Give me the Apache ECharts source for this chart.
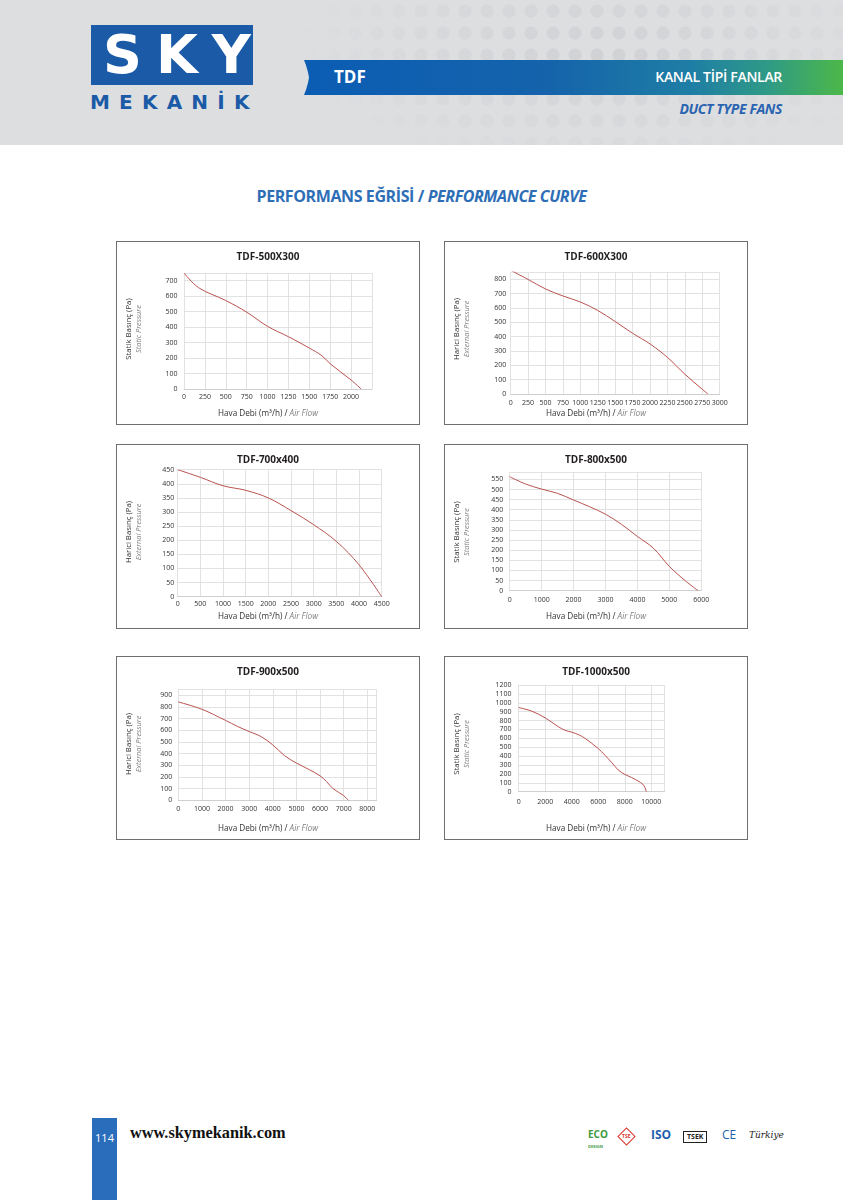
<!DOCTYPE html>
<html>
<head>
<meta charset="utf-8">
<script src="https://cdn.jsdelivr.net/npm/echarts/dist/echarts.min.js"></script>
<style>
  html,body{margin:0;padding:0;background:#fff;}
  body{width:843px;height:1200px;position:relative;overflow:hidden;font-family:"Open Sans",sans-serif;}
  .abs{position:absolute;}
  #header{left:0;top:0;width:843px;height:145px;background:#dddee0;overflow:hidden;}
  #dots{left:300px;top:0;width:543px;height:145px;
    background-image:radial-gradient(circle,#cfd0d3 0,#cfd0d3 6px,transparent 7px);
    background-size:22px 22px;
    -webkit-mask-image:radial-gradient(ellipse 300px 120px at 55% 35%,rgba(0,0,0,0.9),rgba(0,0,0,0) 100%);
    mask-image:radial-gradient(ellipse 300px 120px at 55% 35%,rgba(0,0,0,0.9),rgba(0,0,0,0) 100%);}
  #logo{left:91px;top:25px;width:162px;height:60px;background:#1a5aa7;color:#fff;
    font-family:"DejaVu Sans",sans-serif;font-weight:bold;font-size:54px;line-height:60px;
    letter-spacing:14px;text-align:center;text-indent:12px;}
  #mek{left:90px;top:90px;width:170px;height:24px;color:#1a5aa7;font-family:"DejaVu Sans",sans-serif;
    font-size:20px;line-height:24px;letter-spacing:9.2px;font-weight:bold;}
  #band{left:304px;top:60px;width:539px;height:35px;
    background:linear-gradient(90deg,#0b5db4 0%,#1463ab 45%,#1f7ea5 72%,#2f9a86 86%,#4cb848 100%);
    clip-path:polygon(0 0,100% 0,100% 100%,0 100%,2px 85%,4px 65%,5px 50%,4px 35%,2px 15%);}
  #tdf{left:334px;top:66px;color:#fff;font-weight:bold;font-size:17px;line-height:22px;}
  #kanal{left:600px;top:67px;width:182px;text-align:right;color:#fff;font-weight:600;font-size:14px;line-height:20px;letter-spacing:-0.3px;}
  #duct{left:600px;top:99px;width:182px;text-align:right;color:#2a64b0;font-weight:bold;font-style:italic;font-size:14px;line-height:20px;letter-spacing:-0.4px;}
  #ptitle{left:0;top:185px;width:843px;text-align:center;color:#2d6eb6;font-weight:bold;font-size:16px;line-height:22px;letter-spacing:-0.4px;}
  .box{border:1px solid #6d6e71;box-sizing:border-box;}
  .chart{position:absolute;left:-1px;top:-1px;}
  #pbar{left:92px;top:1118px;width:25px;height:82px;background:#2a6ebb;}
  #pnum{left:92px;top:1130px;width:25px;text-align:center;color:#fff;font-size:11px;line-height:16px;}
  #web{left:130px;top:1123px;color:#111;font-family:"Liberation Serif","DejaVu Serif",serif;font-weight:bold;font-size:16.3px;line-height:20px;}
  .lg{top:1127px;font-size:10px;line-height:16px;font-weight:bold;}
</style>
</head>
<body>
<div id="header" class="abs"><div id="dots" class="abs"></div></div>
<div id="logo" class="abs">SKY</div>
<div id="mek" class="abs">MEKANİK</div>
<div id="band" class="abs"></div>
<div id="tdf" class="abs">TDF</div>
<div id="kanal" class="abs">KANAL TİPİ FANLAR</div>
<div id="duct" class="abs">DUCT TYPE FANS</div>
<div id="ptitle" class="abs">PERFORMANS EĞRİSİ / <i>PERFORMANCE CURVE</i></div>

<div id="b1" class="abs box" style="left:116px;top:241px;width:304px;height:184px;"><div id="c1" class="chart" style="width:304px;height:184px;"></div></div>
<div id="b2" class="abs box" style="left:444px;top:241px;width:304px;height:184px;"><div id="c2" class="chart" style="width:304px;height:184px;"></div></div>
<div id="b3" class="abs box" style="left:116px;top:444px;width:304px;height:185px;"><div id="c3" class="chart" style="width:304px;height:185px;"></div></div>
<div id="b4" class="abs box" style="left:444px;top:444px;width:304px;height:185px;"><div id="c4" class="chart" style="width:304px;height:185px;"></div></div>
<div id="b5" class="abs box" style="left:116px;top:656px;width:304px;height:184px;"><div id="c5" class="chart" style="width:304px;height:184px;"></div></div>
<div id="b6" class="abs box" style="left:444px;top:656px;width:304px;height:184px;"><div id="c6" class="chart" style="width:304px;height:184px;"></div></div>

<div id="pbar" class="abs"></div>
<div id="pnum" class="abs">114</div>
<div id="web" class="abs">www.skymekanik.com</div>
<div class="abs lg" style="left:588px;color:#3c9a3c;font-size:10px;line-height:10px;top:1129px;">ECO<br><span style="font-size:4px;line-height:5px;">DESIGN</span></div>
<div class="abs lg" style="left:620px;top:1130px;width:11px;height:11px;border:1.2px solid #d9362b;transform:rotate(45deg);color:#d9362b;font-size:5px;line-height:11px;text-align:center;"><span style="display:inline-block;transform:rotate(-45deg);">TSE</span></div>
<div class="abs lg" style="left:651px;color:#1f5fae;font-size:12px;">ISO</div>
<div class="abs lg" style="left:683px;top:1131px;border:1px solid #222;color:#222;font-size:7px;line-height:10px;padding:0 3px;">TSEK</div>
<div class="abs lg" style="left:722px;color:#1f5fae;font-weight:normal;font-size:12px;">CE</div>
<div class="abs lg" style="left:749px;color:#222;font-style:italic;font-weight:normal;font-family:'DejaVu Serif',serif;font-size:9px;">Türkiye</div>

<script>
// ---------- DATA ----------
const chartTitles = ['TDF-500X300', 'TDF-600X300', 'TDF-700x400', 'TDF-800x500', 'TDF-900x500', 'TDF-1000x500'];
const yTitleTr = ['Statik Basınç (Pa)', 'Harici Basınç (Pa)', 'Harici Basınç (Pa)', 'Statik Basınç (Pa)', 'Harici Basınç (Pa)', 'Statik Basınç (Pa)'];
const yTitleEn = ['Static Pressure', 'External Pressure', 'External Pressure', 'Static Pressure', 'External Pressure', 'Static Pressure'];
const xTitleTr = 'Hava Debi (m³/h) / ';
const xTitleEn = 'Air Flow';

const flow500x300 = [0, 175, 500, 750, 1000, 1250, 1500, 1650, 1750, 2000, 2120];
const pres500x300 = [750, 655, 572, 497, 405, 338, 265, 215, 163, 58, 0];

const flow600x300 = [0, 250, 500, 750, 1000, 1250, 1500, 1750, 2000, 2250, 2500, 2750, 2830];
const pres600x300 = [862, 798, 732, 683, 641, 582, 505, 423, 349, 255, 138, 33, 0];

const flow700x400 = [0, 500, 1000, 1500, 2000, 2500, 3000, 3500, 4000, 4500];
const pres700x400 = [450, 423, 393, 377, 350, 305, 255, 196, 113, 0];

const flow800x500 = [0, 500, 1000, 1500, 2000, 2500, 3000, 3500, 4000, 4500, 5000, 5500, 5900];
const pres800x500 = [563, 527, 502, 481, 448, 415, 378, 328, 268, 210, 120, 49, 0];

const flow900x500 = [0, 1000, 2000, 2500, 3000, 3500, 4000, 4500, 5000, 5500, 6000, 6280, 6550, 7000, 7200];
const pres900x500 = [842, 779, 684, 633, 589, 546, 474, 382, 319, 267, 210, 160, 100, 40, 0];

const flow1000x500 = [0, 1000, 2000, 3000, 3500, 4000, 4600, 5000, 6000, 6500, 7000, 7500, 8000, 8500, 9000, 9350, 9520, 9620];
const pres1000x500 = [947, 905, 830, 730, 690, 670, 635, 600, 485, 410, 330, 245, 195, 160, 120, 85, 45, 0];

const xTicks = [
  {max: 2250, interval: 250, showMax: false},
  {max: 3000, interval: 250, showMax: true},
  {max: 4500, interval: 500, showMax: true},
  {max: 6000, interval: 1000, showMax: true},
  {max: 8400, interval: 1000, showMax: false},
  {max: 11000, interval: 2000, showMax: false}
];
const yTicks = [
  {max: 750, interval: 100, showMax: false},
  {max: 850, interval: 100, showMax: false},
  {max: 450, interval: 50, showMax: true},
  {max: 585, interval: 50, showMax: false},
  {max: 950, interval: 100, showMax: false},
  {max: 1200, interval: 100, showMax: true}
];

const flows = [flow500x300, flow600x300, flow700x400, flow800x500, flow900x500, flow1000x500];
const pressures = [pres500x300, pres600x300, pres700x400, pres800x500, pres900x500, pres1000x500];

// ---------- LAYOUT ----------
const grids = [
  {left: 68, right: 48, top: 32, bottom: 36},
  {left: 66.7, right: 28.3, top: 31, bottom: 31},
  {left: 61.7, right: 38.3, top: 25.7, bottom: 32.3},
  {left: 65.7, right: 46.7, top: 28.3, bottom: 38.3},
  {left: 62.3, right: 43.3, top: 33.3, bottom: 39.7},
  {left: 74.7, right: 83.4, top: 29, bottom: 48.3}
];
const xMargins = [4.5, 5, 3.5, 6, 5, 6.5];
const yMargins = [6.5, 4.5, 3.5, 6.5, 6, 7.3];

const FONT = '"Open Sans", sans-serif';
const LINE_COLOR = '#b8524f';
const GRID_COLOR = '#dadada';
const plain = v => String(Math.round(v));

for (let i = 0; i < 6; i++) {
  const el = document.getElementById('c' + (i + 1));
  const w = el.clientWidth, h = el.clientHeight;
  const chart = echarts.init(el, null, {renderer: 'canvas'});
  const data = flows[i].map((f, k) => [f, pressures[i][k]]);
  chart.setOption({
    animation: false,
    grid: grids[i],
    xAxis: {
      type: 'value', min: 0, max: xTicks[i].max, interval: xTicks[i].interval,
      axisLine: {show: true, lineStyle: {color: '#cfcfcf', width: 1}},
      axisTick: {show: false},
      splitLine: {show: true, lineStyle: {color: GRID_COLOR, width: 0.8}},
      axisLabel: {fontSize: 7, fontFamily: FONT, color: '#333', margin: xMargins[i], formatter: plain,
        showMinLabel: true, showMaxLabel: xTicks[i].showMax, hideOverlap: false}
    },
    yAxis: {
      type: 'value', min: 0, max: yTicks[i].max, interval: yTicks[i].interval,
      axisLine: {show: false},
      axisTick: {show: false},
      splitLine: {show: true, lineStyle: {color: GRID_COLOR, width: 0.8}},
      axisLabel: {fontSize: 7, fontFamily: FONT, color: '#333', margin: yMargins[i], formatter: plain,
        showMinLabel: true, showMaxLabel: yTicks[i].showMax, hideOverlap: false}
    },
    series: [{
      type: 'line', data: data, smooth: 0.35, symbol: 'none',
      lineStyle: {color: LINE_COLOR, width: 1}
    }],
    graphic: [
      {type: 'text', x: w / 2, y: 16, silent: true,
        style: {text: chartTitles[i], font: 'bold 10px ' + FONT, fill: '#231f20', align: 'center', verticalAlign: 'middle'}},
      {type: 'text', x: w / 2, y: 173, silent: true,
        style: {text: '{a|' + xTitleTr + '}{b|' + xTitleEn + '}', align: 'center', verticalAlign: 'middle',
          rich: {a: {fontSize: 8.2, fontFamily: FONT, fill: '#333'}, b: {fontSize: 8.2, fontFamily: FONT, fontStyle: 'italic', fill: '#808080'}}}},
      {type: 'text', x: 17.5, y: 88, rotation: Math.PI / 2, silent: true,
        style: {text: '{a|' + yTitleTr[i] + '}\n{b|' + yTitleEn[i] + '}', align: 'center', verticalAlign: 'middle',
          rich: {a: {fontSize: 7.8, fontFamily: FONT, fill: '#333', lineHeight: 10, align: 'center'},
                 b: {fontSize: 7.4, fontFamily: FONT, fontStyle: 'italic', fill: '#808080', lineHeight: 10, align: 'center'}}}}
    ]
  });
}
</script>
</body>
</html>
